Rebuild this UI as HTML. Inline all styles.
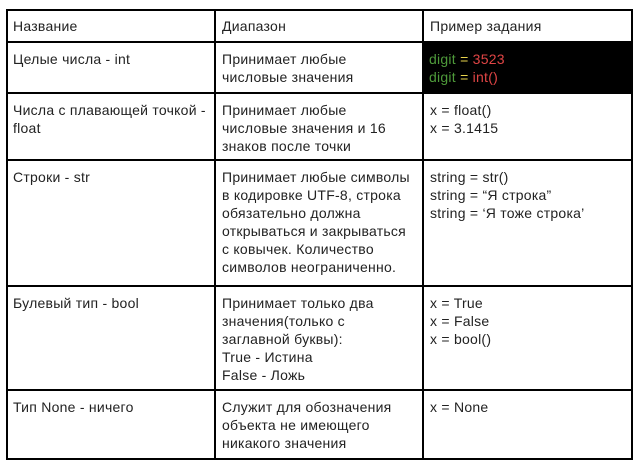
<!DOCTYPE html>
<html><head><meta charset="utf-8"><style>
html,body{margin:0;padding:0;background:#fff;width:641px;height:469px;overflow:hidden}
body{font-family:"Liberation Sans","DejaVu Sans",sans-serif;font-size:14px;letter-spacing:0.25px;color:#222}
.c{position:absolute;box-sizing:border-box;line-height:18px;padding:8px 0 0 8px;white-space:nowrap}
.h{position:absolute;background:#000;height:1.5px}
.v{position:absolute;background:#000;width:1.5px}
.g{color:#4e9a3a}.y{color:#e8d44d}.r{color:#e04545}
</style></head><body>
<div style="position:absolute;left:422px;top:42px;width:210px;height:51px;background:#000"></div>
<div class="h" style="left:6px;width:627px;top:9px"></div>
<div class="h" style="left:6px;width:627px;top:41px"></div>
<div class="h" style="left:6px;width:627px;top:92px"></div>
<div class="h" style="left:6px;width:627px;top:159px"></div>
<div class="h" style="left:6px;width:627px;top:285px"></div>
<div class="h" style="left:6px;width:627px;top:389px"></div>
<div class="h" style="left:6px;width:627px;top:458px"></div>
<div class="v" style="left:6px;top:9px;height:451px"></div>
<div class="v" style="left:214px;top:9px;height:451px"></div>
<div class="v" style="left:422px;top:9px;height:451px"></div>
<div class="v" style="left:631px;top:9px;height:451px"></div>

<div class="c" style="left:5px;top:9px">Название</div>
<div class="c" style="left:214px;top:9px">Диапазон</div>
<div class="c" style="left:422px;top:9px">Пример задания</div>

<div class="c" style="left:5px;top:42px">Целые числа - int</div>
<div class="c" style="left:214px;top:42px">Принимает любые<br>числовые значения</div>
<div class="c" style="left:421px;top:42px"><span class="g">digit</span> <span class="y">=</span> <span class="r">3523</span><br><span class="g">digit</span> <span class="y">=</span> <span class="r">int()</span></div>

<div class="c" style="left:5px;top:93px">Числа с плавающей точкой -<br>float</div>
<div class="c" style="left:214px;top:93px">Принимает любые<br>числовые значения и 16<br>знаков после точки</div>
<div class="c" style="left:422px;top:93px">x = float()<br>x = 3.1415</div>

<div class="c" style="left:5px;top:160px">Строки - str</div>
<div class="c" style="left:214px;top:160px">Принимает любые символы<br>в кодировке UTF-8, строка<br>обязательно должна<br>открываться и закрываться<br>с ковычек. Количество<br>символов неограниченно.</div>
<div class="c" style="left:422px;top:160px">string = str()<br>string = “Я строка”<br>string = ‘Я тоже строка’</div>

<div class="c" style="left:5px;top:286px">Булевый тип - bool</div>
<div class="c" style="left:214px;top:286px">Принимает только два<br>значения(только с<br>заглавной буквы):<br>True - Истина<br>False - Ложь</div>
<div class="c" style="left:422px;top:286px">x = True<br>x = False<br>x = bool()</div>

<div class="c" style="left:5px;top:390px">Тип None - ничего</div>
<div class="c" style="left:214px;top:390px">Служит для обозначения<br>объекта не имеющего<br>никакого значения</div>
<div class="c" style="left:422px;top:390px">x = None</div>
</body></html>
